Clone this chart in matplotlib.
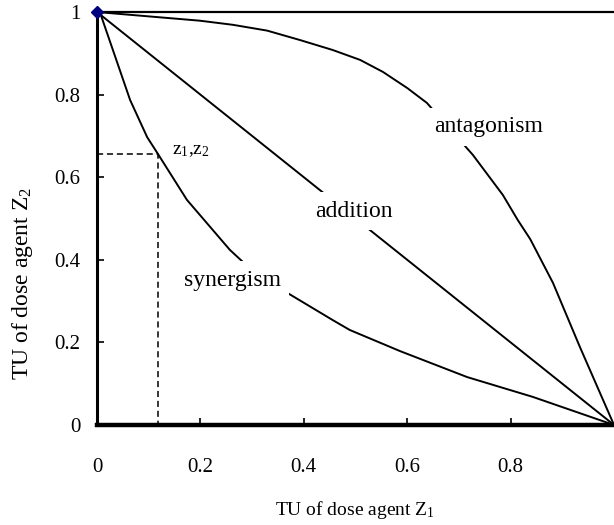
import matplotlib
matplotlib.use('Agg')
import matplotlib.pyplot as plt

plt.rcParams['font.family'] = ['Liberation Serif', 'DejaVu Serif']
plt.rcParams['mathtext.fontset'] = 'custom'
plt.rcParams['mathtext.rm'] = 'Liberation Serif'
plt.rcParams['mathtext.it'] = 'Liberation Serif:italic'

# Isobole curves
addition_x = [0, 1]
addition_y = [1, 0]

antagonism_x = [0, 0.199, 0.263, 0.329, 0.393, 0.456, 0.509, 0.553, 0.600, 0.638,
                0.727, 0.785, 0.814, 0.838, 0.882, 0.934, 1.0]
antagonism_y = [1, 0.979, 0.969, 0.955, 0.932, 0.908, 0.884, 0.855, 0.816, 0.780,
                0.654, 0.557, 0.496, 0.450, 0.344, 0.189, 0]

synergism_x = [0, 0.006, 0.064, 0.097, 0.118, 0.174, 0.257, 0.282, 0.368, 0.456,
               0.489, 0.586, 0.716, 0.843, 1.0]
synergism_y = [1, 0.998, 0.787, 0.697, 0.656, 0.545, 0.424, 0.395, 0.320, 0.254,
               0.230, 0.179, 0.116, 0.068, 0]

# mixture point z1, z2 on the synergism curve
point_z1 = 0.118
point_z2 = 0.656

xticks = [0, 0.2, 0.4, 0.6, 0.8]
yticks = [0, 0.2, 0.4, 0.6, 0.8, 1]

fig = plt.figure(figsize=(6.14, 5.25), dpi=100)
ax = fig.add_axes([0.158, 0.1905, 0.842, 0.7866])

ax.plot(addition_x, addition_y, color='black', lw=1.4)
ax.plot(antagonism_x, antagonism_y, color='black', lw=1.4)
ax.plot(synergism_x, synergism_y, color='black', lw=1.4)
ax.plot([0, point_z1, point_z1], [point_z2, point_z2, 0], color='black', lw=1.1,
        ls=(0, (4, 2.5)))
ax.plot([0], [1], marker='D', color='#000080', markersize=6, clip_on=False, zorder=5)

# curve labels with white backing so the lines break around them
box = dict(facecolor='white', edgecolor='none', pad=6)
ax.text(0.758, 0.722, 'antagonism', fontsize=17, ha='center', va='center', bbox=box)
ax.text(0.497, 0.518, 'addition', fontsize=17, ha='center', va='center', bbox=box)
ax.text(0.262, 0.351, 'synergism', fontsize=17, ha='center', va='center', bbox=box)
ax.text(0.145, 0.665, 'z$_1$,z$_2$', fontsize=14, ha='left', va='center')

ax.set_xlim(0, 1)
ax.set_ylim(0, 1)
ax.set_xticks(xticks)
ax.set_xticklabels(['0', '0.2', '0.4', '0.6', '0.8'])
ax.set_yticks(yticks)
ax.set_yticklabels(['0', '0.2', '0.4', '0.6', '0.8', '1'])
ax.tick_params(axis='x', direction='in', length=5, width=1.2, pad=24, labelsize=15)
ax.tick_params(axis='y', direction='in', length=5, width=1.2, pad=12, labelsize=15)

ax.spines['right'].set_visible(False)
ax.spines['top'].set_linewidth(1.6)
ax.spines['left'].set_linewidth(2.2)
ax.spines['bottom'].set_linewidth(3.2)

fig.text(355 / 614, 1 - 510 / 525, 'TU of dose agent Z$_\\mathrm{1}$', fontsize=14,
         ha='center', va='center')
fig.text(23 / 614, 1 - 283 / 525, 'TU of dose agent Z$_\\mathrm{2}$', fontsize=17,
         ha='center', va='center', rotation=90)

fig.savefig('out.png', dpi=100)
